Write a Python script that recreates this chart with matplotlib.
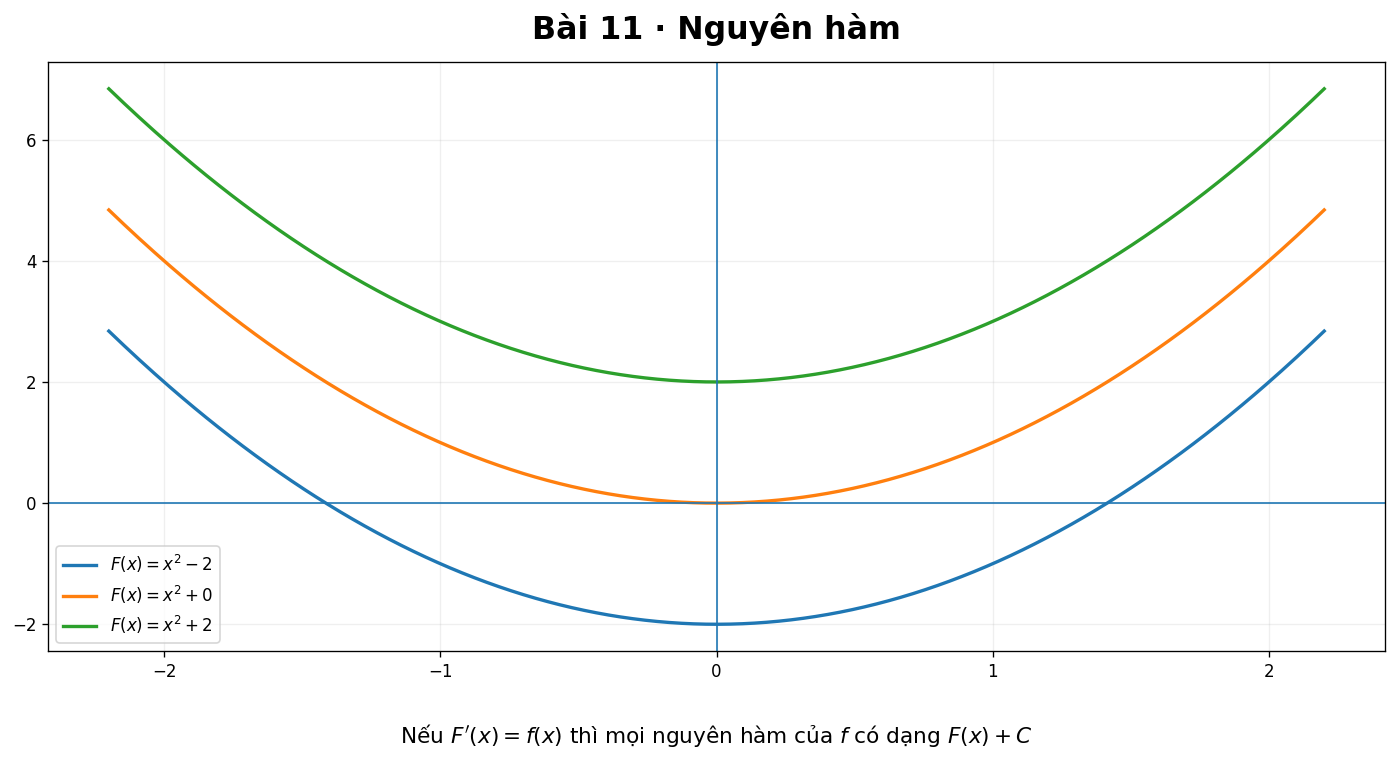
import matplotlib
matplotlib.use("Agg")
import matplotlib.pyplot as plt
import numpy as np

# hang so C cua cac nguyen ham F(x) = x^2 + C
constants = [-2, 0, 2]
x_min, x_max = -2.2, 2.2
title = "Bài 11 · Nguyên hàm"
caption = r"Nếu $F'(x) = f(x)$ thì mọi nguyên hàm của $f$ có dạng $F(x) + C$"

x = np.linspace(x_min, x_max, 400)

fig, ax = plt.subplots(figsize=(1397 / 120, 761 / 120), dpi=120)
fig.subplots_adjust(left=0.0344, right=0.9914, top=0.9185, bottom=0.1445)

for c in constants:
    ax.plot(x, x**2 + c, linewidth=2, label=r"$F(x) = x^2 %s %d$" % ("-" if c < 0 else "+", abs(c)))

ax.axhline(0, linewidth=1, color="C0")
ax.axvline(0, linewidth=1, color="C0")
ax.grid(True, alpha=0.2)
ax.legend(loc="lower left", fontsize=10)

ax.set_title(title, fontsize=19, fontweight="bold", pad=14)
ax.text(0.5, 0.033, caption, transform=fig.transFigure, ha="center", va="center", fontsize=13)
# can giua theo truc, khong theo hinh
ax.texts[-1].set_x(0.5 * (0.0344 + 0.9914))

fig.savefig("out.png", dpi=120)
